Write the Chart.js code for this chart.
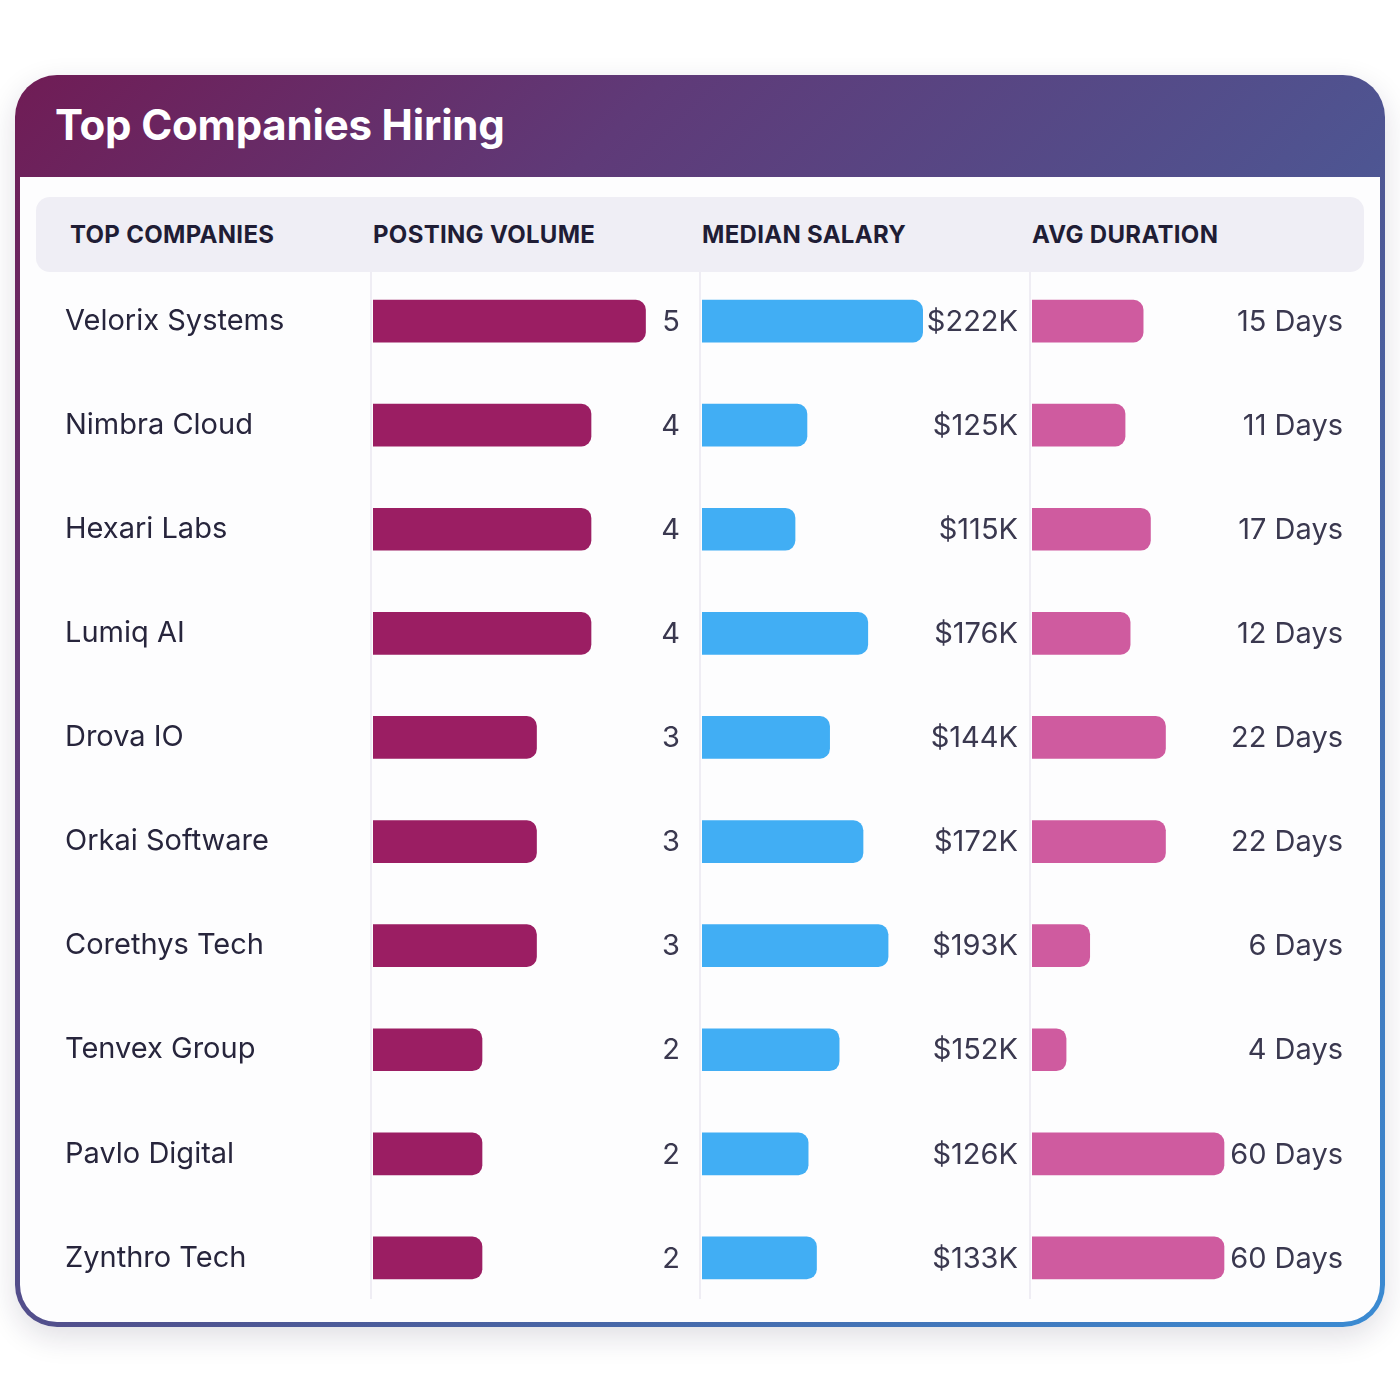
<!DOCTYPE html>
<html>
<head>
<meta charset="utf-8">
<script src="https://cdn.jsdelivr.net/npm/chart.js@4.4.1/dist/chart.umd.min.js"></script>
<style>
  html, body { margin: 0; padding: 0; background: #ffffff; }
  body { width: 1400px; height: 1400px; position: relative; font-family: Inter, "Noto Sans", sans-serif; }
  .card {
    position: absolute; left: 15px; top: 75px; width: 1370px; height: 1252px;
    border-radius: 42px; box-sizing: border-box; padding: 102px 5px 5px 5px;
    background: linear-gradient(135deg, #701c55 0%, #5f3a78 25%, #4e5592 55%, #3a8bd3 100%);
    box-shadow: 0 10px 30px rgba(30, 20, 60, 0.14);
  }
  .inner { width: 100%; height: 100%; background: #fdfdfe; border-radius: 0 0 37px 37px; }
  .title {
    position: absolute; left: 55px; top: 99px; margin: 0;
    color: #fff; font: 700 42px Inter, sans-serif; letter-spacing: -0.2px;
  }
  .thead {
    position: absolute; left: 36px; top: 197px; width: 1328px; height: 75px;
    background: #efeef5; border-radius: 14px;
  }
  .th {
    position: absolute; top: 220px; color: #1f1d35;
    font: 700 24px Inter, sans-serif; letter-spacing: 0.3px; white-space: nowrap;
  }
  .divider { position: absolute; top: 272px; width: 2px; height: 1027px; background: #efedf4; }
  canvas { position: absolute; top: 269px; }
</style>
</head>
<body>
<div class="card"><div class="inner"></div></div>
<h1 class="title">Top Companies Hiring</h1>
<div class="thead"></div>
<div class="th" style="left:70px">TOP COMPANIES</div>
<div class="th" style="left:373px">POSTING VOLUME</div>
<div class="th" style="left:702px">MEDIAN SALARY</div>
<div class="th" style="left:1032px">AVG DURATION</div>
<div class="divider" style="left:370px"></div>
<div class="divider" style="left:699px"></div>
<div class="divider" style="left:1029px"></div>
<canvas id="postings" width="680" height="1041" style="left:20px"></canvas>
<canvas id="salary" width="328" height="1041" style="left:702px"></canvas>
<canvas id="duration" width="348" height="1041" style="left:1032px"></canvas>
<script>
const companies = ['Velorix Systems', 'Nimbra Cloud', 'Hexari Labs', 'Lumiq AI', 'Drova IO',
  'Orkai Software', 'Corethys Tech', 'Tenvex Group', 'Pavlo Digital', 'Zynthro Tech'];
const postings = [5, 4, 4, 4, 3, 3, 3, 2, 2, 2];
const salaryK = [222, 125, 115, 176, 144, 172, 193, 152, 126, 133];
const durationDays = [15, 11, 17, 12, 22, 22, 6, 4, 60, 60];

const FONT = 'Inter, "Noto Sans", sans-serif';

// draws the value text right-aligned inside each column
function valueLabels(format, inset) {
  return {
    id: 'valueLabels',
    afterDatasetsDraw(chart) {
      const { ctx, chartArea } = chart;
      const meta = chart.getDatasetMeta(0);
      const data = chart.data.datasets[0].data;
      ctx.save();
      ctx.font = '400 29px ' + FONT;
      ctx.fillStyle = '#3a384f';
      ctx.textAlign = 'right';
      ctx.textBaseline = 'middle';
      meta.data.forEach((bar, i) => {
        ctx.fillText(format(data[i]), chartArea.right - inset, bar.y + 1);
      });
      ctx.restore();
    }
  };
}

function makeChart(id, data, color, xScale, yScale, padLeft, labels) {
  return new Chart(document.getElementById(id), {
    type: 'bar',
    data: {
      labels: companies,
      datasets: [{ data, backgroundColor: color, barThickness: 42, borderRadius: 10, borderSkipped: 'start' }]
    },
    options: {
      indexAxis: 'y',
      responsive: false,
      animation: false,
      devicePixelRatio: 1,
      layout: { padding: { left: padLeft, right: 0, top: 0, bottom: 0 } },
      plugins: { legend: { display: false }, tooltip: { enabled: false } },
      scales: { x: xScale, y: yScale }
    },
    plugins: [labels]
  });
}

const hiddenY = { display: false };

makeChart('postings', postings, '#9b1e63',
  { display: false, min: 0, max: 6 },
  {
    display: true,
    grid: { display: false, drawTicks: false },
    border: { display: false },
    ticks: { crossAlign: 'far', padding: 0, color: '#27253c', font: { family: FONT, size: 29 } },
    afterFit(scale) {
      scale.width = 308;
      // keep rows aligned with the other columns
      scale.paddingTop = 0;
      scale.paddingBottom = 0;
    }
  },
  45, valueLabels(v => String(v), 20));

makeChart('salary', salaryK, '#41aef4',
  { display: false, min: 37, max: 312 },
  hiddenY, 0, valueLabels(v => '$' + v + 'K', 12));

makeChart('duration', durationDays, '#cf5b9f',
  { display: false, type: 'logarithmic', min: 2.23, max: 871 },
  hiddenY, 0, valueLabels(v => v + ' Days', 37));
</script>
</body>
</html>
